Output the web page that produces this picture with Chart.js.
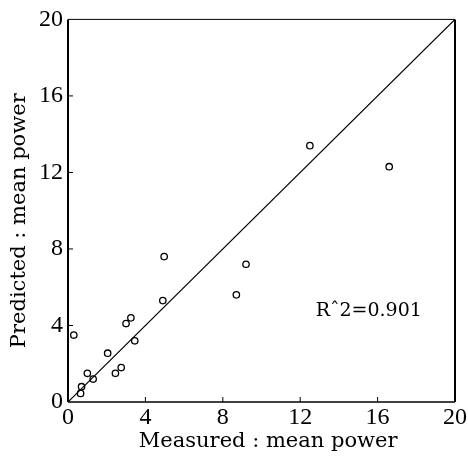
<!DOCTYPE html>
<html>
<head>
<meta charset="utf-8">
<script src="https://cdn.jsdelivr.net/npm/chart.js@4/dist/chart.umd.min.js"></script>
<style>
  html, body { margin: 0; padding: 0; background: #fff; }
  #wrap { width: 468px; height: 462px; }
</style>
</head>
<body>
<div id="wrap"><canvas id="myChart" width="468" height="462"></canvas></div>
<script>
(function () {

	// valores
	const measured  = [0.3, 0.7, 0.65, 1.0, 1.3, 2.05, 2.45, 2.75, 3.0, 3.25, 3.45, 4.9, 4.97, 8.7, 9.2, 12.5, 16.6];
	const predicted = [3.5, 0.8, 0.45, 1.5, 1.2, 2.55, 1.5, 1.8, 4.1, 4.4, 3.2, 5.3, 7.6, 5.6, 7.2, 13.4, 12.3];
	const lineX = [0, 20];
	const lineY = [0, 20];
	const ticks = [0, 4, 8, 12, 16, 20];
	const r2Text = 'R\u02C62=0.901';
	const r2Pos = [12.8, 4.75];

	const serif = '"Liberation Serif", serif';
	const wide = '"DejaVu Serif", serif';
	const ctx = document.getElementById('myChart');

	// marco, marcas hacia adentro y texto R^2
	const extras = {
		id: 'extras',
		afterDatasetsDraw(chart) {
			const c = chart.ctx;
			const a = chart.chartArea;
			const xs = chart.scales.x, ys = chart.scales.y;
			c.save();
			c.strokeStyle = '#000';
			c.lineWidth = 1;
			c.beginPath();
			c.moveTo(a.left, a.top); c.lineTo(a.right, a.top);
			c.stroke();
			c.lineWidth = 1.5;
			c.beginPath();
			c.moveTo(a.left, a.bottom); c.lineTo(a.right, a.bottom);
			c.stroke();
			c.lineWidth = 2;
			c.beginPath();
			c.moveTo(a.left, a.top); c.lineTo(a.left, a.bottom);
			c.moveTo(a.right, a.top); c.lineTo(a.right, a.bottom);
			c.stroke();
			c.lineWidth = 1;
			c.beginPath();
			ticks.slice(1, -1).forEach(function (t) {
				const px = xs.getPixelForValue(t);
				c.moveTo(px, a.bottom); c.lineTo(px, a.bottom - 5);
				const py = ys.getPixelForValue(t);
				c.moveTo(a.left, py); c.lineTo(a.left + 5, py);
			});
			c.stroke();
			c.fillStyle = '#000';
			c.font = '19px ' + wide;
			c.textAlign = 'left';
			c.textBaseline = 'middle';
			c.fillText(r2Text, xs.getPixelForValue(r2Pos[0]), ys.getPixelForValue(r2Pos[1]));
			c.restore();
		}
	};

	new Chart(ctx, {
		type: 'scatter',
		data: {
			datasets: [{
				type: 'line',
				data: lineX.map((x, i) => ({ x: x, y: lineY[i] })),
				borderColor: '#000',
				borderWidth: 1.2,
				pointRadius: 0,
				fill: false
			}, {
				data: measured.map((x, i) => ({ x: x, y: predicted[i] })),
				pointStyle: 'circle',
				pointRadius: 3.2,
				pointBorderWidth: 1.3,
				pointBorderColor: '#000',
				pointBackgroundColor: 'rgba(255,255,255,0)'
			}]
		},
		options: {
			responsive: false,
			animation: false,
			layout: { padding: { top: 10, right: 12, left: 0, bottom: 0 } },
			plugins: { legend: { display: false }, tooltip: { enabled: false } },
			scales: {
				x: {
					type: 'linear',
					min: 0, max: 20,
					afterBuildTicks: function (s) { s.ticks = ticks.map(v => ({ value: v })); },
					afterFit: function (s) { s.height = 60; },
					grid: { display: false, drawTicks: false },
					border: { display: false },
					ticks: { color: '#000', padding: 1, font: { family: serif, size: 24 } },
					title: { display: true, text: '  Measured : mean power', color: '#000', padding: { top: 0, bottom: 8 }, font: { family: wide, size: 21 } }
				},
				y: {
					type: 'linear',
					min: 0, max: 20,
					afterBuildTicks: function (s) { s.ticks = ticks.map(v => ({ value: v })); },
					afterFit: function (s) { s.width = 68; },
					grid: { display: false, drawTicks: false },
					border: { display: false },
					ticks: { color: '#000', padding: 5, font: { family: serif, size: 24 } },
					title: { display: true, text: 'Predicted : mean power   ', color: '#000', padding: { top: 7, bottom: 0 }, font: { family: wide, size: 21 } }
				}
			}
		},
		plugins: [extras]
	});

})();
</script>
</body>
</html>
